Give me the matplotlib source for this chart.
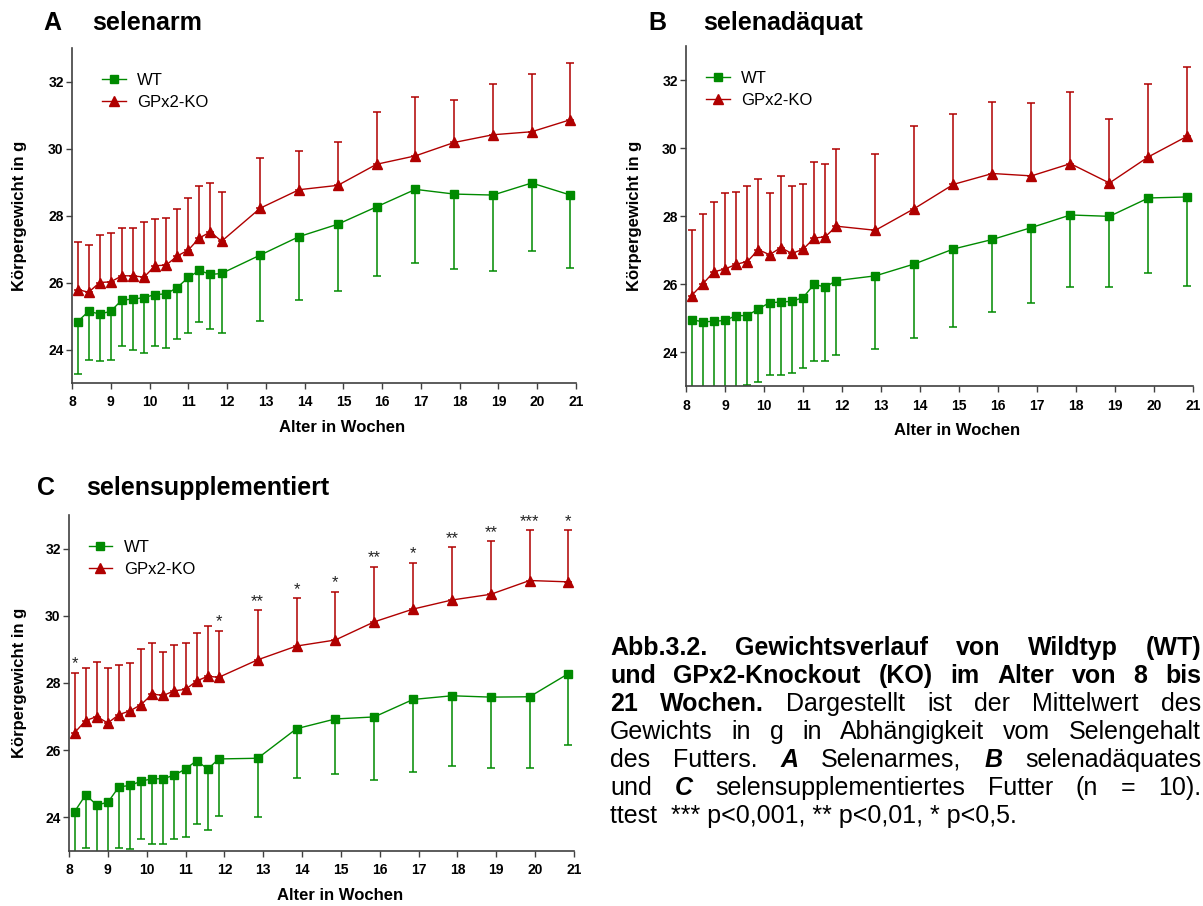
import matplotlib
matplotlib.use("Agg")
import matplotlib.pyplot as plt
from matplotlib.transforms import IdentityTransform

plt.rcParams['font.family'] = ['Liberation Sans', 'DejaVu Sans']

W, H = 1203, 906

# Alter der Tiere bei der Wägung (Tage), auf der x-Achse in Wochen
age_days = [57, 59, 61, 63, 65, 67, 69, 71, 73, 75, 77, 79, 81, 83,
            90, 97, 104, 111, 118, 125, 132, 139, 146]
weeks = [d / 7 for d in age_days]

# A selenarm: Mittelwert und SD (g)
a_wt_mean = [24.83, 25.14, 25.06, 25.14, 25.48, 25.50, 25.55, 25.64, 25.66, 25.85, 26.15, 26.36,
             26.24, 26.27, 26.82, 27.37, 27.74, 28.26, 28.78, 28.64, 28.61, 28.97, 28.61]
a_wt_sd = [1.55, 1.44, 1.41, 1.45, 1.39, 1.50, 1.64, 1.53, 1.61, 1.55, 1.65, 1.55,
           1.64, 1.77, 1.98, 1.88, 1.98, 2.08, 2.20, 2.24, 2.26, 2.02, 2.19]
a_ko_mean = [25.79, 25.71, 26.00, 26.02, 26.20, 26.20, 26.16, 26.50, 26.52, 26.79, 26.97, 27.33,
             27.51, 27.23, 28.22, 28.77, 28.90, 29.53, 29.78, 30.18, 30.41, 30.50, 30.86]
a_ko_sd = [1.43, 1.41, 1.41, 1.46, 1.44, 1.42, 1.64, 1.40, 1.40, 1.39, 1.54, 1.56,
           1.46, 1.48, 1.50, 1.17, 1.29, 1.56, 1.77, 1.26, 1.53, 1.72, 1.68]

# B selenadäquat
b_wt_mean = [24.95, 24.89, 24.90, 24.93, 25.07, 25.07, 25.27, 25.45, 25.47, 25.49, 25.60, 25.99,
             25.91, 26.10, 26.24, 26.59, 27.03, 27.31, 27.66, 28.03, 27.99, 28.53, 28.56]
b_wt_sd = [2.30, 2.20, 2.40, 2.30, 2.20, 2.05, 2.15, 2.12, 2.16, 2.12, 2.07, 2.25,
           2.17, 2.20, 2.16, 2.18, 2.29, 2.13, 2.21, 2.11, 2.07, 2.20, 2.62]
b_ko_mean = [25.66, 26.00, 26.36, 26.44, 26.58, 26.66, 27.01, 26.86, 27.07, 26.90, 27.02, 27.35,
             27.39, 27.70, 27.58, 28.22, 28.93, 29.25, 29.18, 29.54, 28.97, 29.74, 30.35]
b_ko_sd = [1.92, 2.06, 2.06, 2.23, 2.13, 2.22, 2.09, 1.83, 2.10, 1.98, 1.92, 2.24,
           2.15, 2.28, 2.25, 2.43, 2.07, 2.09, 2.13, 2.10, 1.89, 2.13, 2.04]

# C selensupplementiert
c_wt_mean = [24.17, 24.67, 24.37, 24.45, 24.91, 24.95, 25.08, 25.15, 25.15, 25.26, 25.44, 25.69,
             25.44, 25.74, 25.76, 26.64, 26.93, 26.99, 27.51, 27.62, 27.58, 27.59, 28.28]
c_wt_sd = [1.50, 1.59, 1.60, 1.60, 1.83, 1.89, 1.73, 1.93, 1.93, 1.91, 2.03, 1.88,
           1.82, 1.71, 1.74, 1.47, 1.65, 1.89, 2.17, 2.10, 2.12, 2.13, 2.13]
c_ko_mean = [26.52, 26.88, 27.00, 26.81, 27.06, 27.17, 27.36, 27.67, 27.63, 27.77, 27.81, 28.06,
             28.20, 28.17, 28.69, 29.10, 29.28, 29.82, 30.20, 30.47, 30.64, 31.05, 31.01]
c_ko_sd = [1.78, 1.56, 1.62, 1.65, 1.47, 1.44, 1.64, 1.51, 1.29, 1.37, 1.37, 1.43,
           1.50, 1.39, 1.48, 1.42, 1.44, 1.64, 1.38, 1.57, 1.58, 1.49, 1.54]
c_stars = ['*', '', '', '', '', '', '', '', '', '', '', '', '', '*',
           '**', '*', '*', '**', '*', '**', '**', '***', '*']

GREEN = '#008a00'
RED = '#b00000'
AXCOL = '#404040'


def panel(fig, box, wt_mean, wt_sd, ko_mean, ko_sd, leg_xy, ylab_x, xlab_x):
    l, r, t, b = box
    ax = fig.add_axes([l / W, 1 - b / H, (r - l) / W, (b - t) / H])
    zeros = [0] * len(weeks)
    # einseitige SD-Balken: WT nach unten, KO nach oben
    ax.errorbar(weeks, wt_mean, yerr=[wt_sd, zeros], fmt='none', ecolor=GREEN,
                elinewidth=1.1, capsize=2.6, capthick=1.1, zorder=2)
    ax.errorbar(weeks, ko_mean, yerr=[zeros, ko_sd], fmt='none', ecolor=RED,
                elinewidth=1.1, capsize=2.6, capthick=1.1, zorder=2)
    ax.plot(weeks, wt_mean, '-s', color=GREEN, lw=1.0, ms=6, label='WT', zorder=3)
    ax.plot(weeks, ko_mean, '-^', color=RED, lw=1.0, ms=6.5, label='GPx2-KO', zorder=3)

    ax.set_xlim(8, 21)
    ax.set_ylim(23, 33)
    ax.set_xticks(range(8, 22))
    ax.set_yticks([24, 26, 28, 30, 32])
    for side in ['top', 'right']:
        ax.spines[side].set_visible(False)
    for side in ['left', 'bottom']:
        ax.spines[side].set_color(AXCOL)
        ax.spines[side].set_linewidth(1.2)
    ax.tick_params(axis='both', direction='out', length=4, width=1, color=AXCOL)
    ax.tick_params(axis='x', pad=5)
    ax.tick_params(axis='y', pad=2)
    for lab in ax.get_xticklabels() + ax.get_yticklabels():
        lab.set_fontweight('bold')
        lab.set_fontsize(10)

    ax.set_ylabel('Körpergewicht in g', fontsize=12, fontweight='bold')
    ax.yaxis.set_label_coords(ylab_x, 0.5)
    ax.set_xlabel('Alter in Wochen', fontsize=12, fontweight='bold')
    ax.xaxis.set_label_coords(xlab_x, -0.11)

    ax.legend(loc='upper left', bbox_to_anchor=leg_xy, frameon=False, fontsize=12,
              handlelength=1.4, handletextpad=0.7, labelspacing=0.4,
              borderpad=0, borderaxespad=0)
    return ax


fig = plt.figure(figsize=(W / 100, H / 100), dpi=100)

panel(fig, (72, 576, 48, 383), a_wt_mean, a_wt_sd, a_ko_mean, a_ko_sd,
      (0.06, 0.925), -0.089, 0.536)
panel(fig, (686, 1193, 46, 386), b_wt_mean, b_wt_sd, b_ko_mean, b_ko_sd,
      (0.04, 0.926), -0.086, 0.535)
axc = panel(fig, (69, 574, 515, 851), c_wt_mean, c_wt_sd, c_ko_mean, c_ko_sd,
            (0.039, 0.925), -0.084, 0.536)

# Signifikanzsterne über den KO-Balken
for x, m, s, star in zip(weeks, c_ko_mean, c_ko_sd, c_stars):
    if star:
        axc.annotate(star, (x, m + s), xytext=(0, 1), textcoords='offset points',
                     ha='center', va='bottom', fontsize=12, color='#222222')

# Panel-Überschriften
titles = [(43, 92, 30, 'A', 'selenarm'),
          (648, 703, 30, 'B', 'selenadäquat'),
          (37, 86, 495, 'C', 'selensupplementiert')]
for x1, x2, y, letter, name in titles:
    fig.text(x1 / W, 1 - y / H, letter, fontsize=18, fontweight='bold', va='baseline')
    fig.text(x2 / W, 1 - y / H, name, fontsize=18, fontweight='bold', va='baseline')

# Legende als Blocksatz
N, BO, BI = ('normal', 'normal'), ('bold', 'normal'), ('bold', 'italic')
caption = [
    [('Abb.3.2. Gewichtsverlauf von Wildtyp (WT)', BO)],
    [('und GPx2-Knockout (KO) im Alter von 8 bis', BO)],
    [('21 Wochen.', BO), ('Dargestellt ist der Mittelwert des', N)],
    [('Gewichts in g in Abhängigkeit vom Selengehalt', N)],
    [('des Futters.', N), ('A', BI), ('Selenarmes,', N), ('B', BI), ('selenadäquates', N)],
    [('und', N), ('C', BI), ('selensupplementiertes Futter (n = 10).', N)],
]
last_line = 'ttest  *** p<0,001, ** p<0,01, * p<0,5.'
cap_x0, cap_x1 = 610, 1201
cap_y0, cap_dy = 655, 28
cap_size = 18

renderer = fig.canvas.get_renderer()
for i, segs in enumerate(caption):
    y = H - (cap_y0 + i * cap_dy)
    words = []
    for txt, (wt, st) in segs:
        for w in txt.split(' '):
            words.append(fig.text(0, y, w, fontsize=cap_size, fontweight=wt, fontstyle=st,
                                  va='baseline', transform=IdentityTransform()))
    widths = [t.get_window_extent(renderer).width for t in words]
    gap = (cap_x1 - cap_x0 - sum(widths)) / (len(words) - 1)
    x = cap_x0
    for t, w in zip(words, widths):
        t.set_x(x)
        x += w + gap
fig.text(cap_x0, H - (cap_y0 + 6 * cap_dy), last_line, fontsize=cap_size,
         va='baseline', transform=IdentityTransform())

fig.savefig('out.png', dpi=100)
